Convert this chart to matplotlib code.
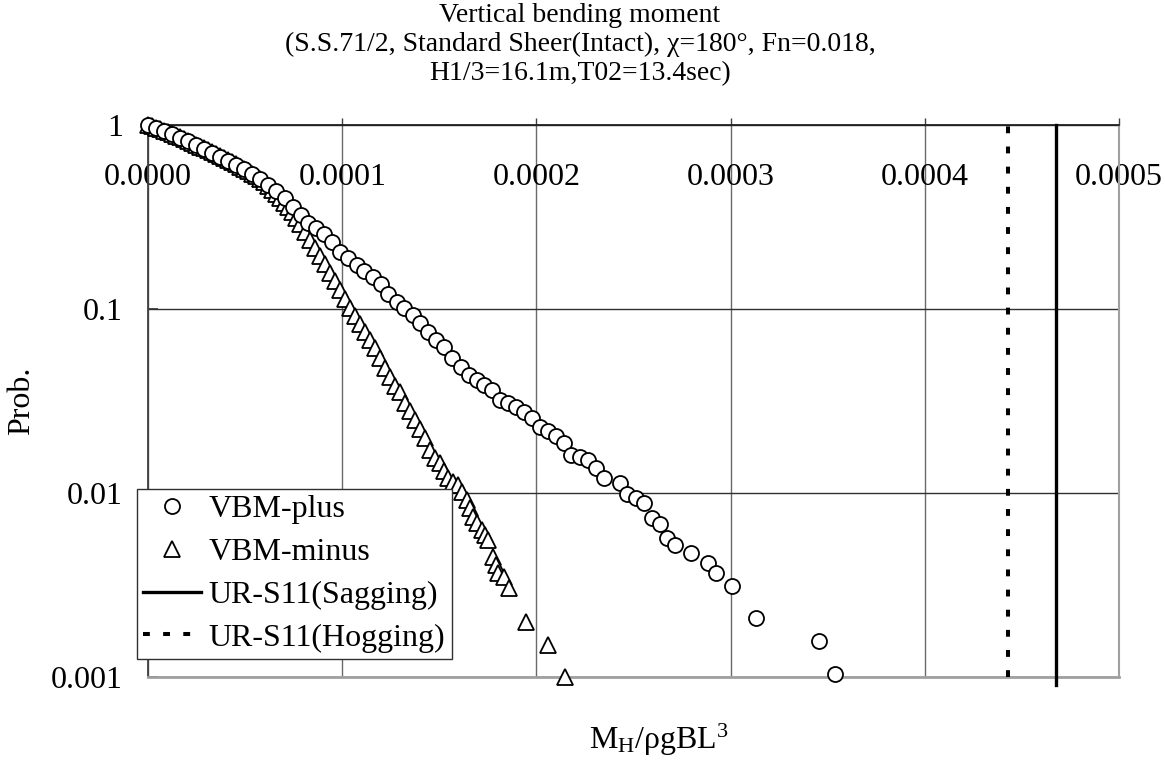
import matplotlib
matplotlib.use('Agg')
import matplotlib.pyplot as plt
from matplotlib.ticker import FixedLocator, FixedFormatter, NullLocator

plt.rcParams['font.family'] = ['Liberation Serif', 'DejaVu Serif']
plt.rcParams['mathtext.fontset'] = 'custom'
plt.rcParams['mathtext.rm'] = 'Liberation Serif'
plt.rcParams['mathtext.it'] = 'Liberation Serif:italic'

# ---------------- data ----------------
plus_x = [0, 4.12e-6, 8.23e-6, 1.235e-5, 1.647e-5, 2.058e-5, 2.470e-5, 2.882e-5, 3.294e-5,
          3.705e-5, 4.117e-5, 4.529e-5, 4.941e-5, 5.352e-5, 5.764e-5, 6.176e-5, 6.588e-5,
          7.051e-5, 7.463e-5, 7.859e-5, 8.250e-5, 8.646e-5, 9.058e-5, 9.455e-5, 9.882e-5,
          1.0309e-4, 1.0741e-4, 1.1133e-4, 1.1565e-4, 1.1977e-4, 1.2368e-4, 1.2800e-4,
          1.3191e-4, 1.3624e-4, 1.3999e-4, 1.4426e-4, 1.4823e-4, 1.5234e-4, 1.5661e-4,
          1.6094e-4, 1.6521e-4, 1.6917e-4, 1.7308e-4, 1.7720e-4, 1.8116e-4, 1.8544e-4,
          1.8940e-4, 1.9352e-4, 1.9748e-4, 2.0175e-4, 2.0587e-4, 2.0999e-4, 2.1410e-4,
          2.1807e-4, 2.2234e-4, 2.2661e-4, 2.3057e-4, 2.3469e-4, 2.4292e-4, 2.4689e-4,
          2.5116e-4, 2.5528e-4, 2.5940e-4, 2.6351e-4, 2.6748e-4, 2.7160e-4, 2.7983e-4,
          2.8837e-4, 2.9233e-4, 3.0057e-4, 3.1292e-4, 3.4550e-4, 3.5394e-4]
plus_p = [1.0, 0.963, 0.928, 0.894, 0.850, 0.819, 0.779, 0.741, 0.705,
          0.670, 0.637, 0.606, 0.576, 0.542, 0.509, 0.472, 0.438,
          0.401, 0.360, 0.324, 0.294, 0.275, 0.256, 0.232, 0.205,
          0.189, 0.173, 0.1615, 0.1487, 0.1368, 0.1202, 0.1096,
          0.1009, 0.0928, 0.0836, 0.0752, 0.0678, 0.0624, 0.0540,
          0.0486, 0.0438, 0.0411, 0.0386, 0.0363, 0.0320, 0.0307,
          0.0294, 0.0277, 0.0255, 0.0229, 0.0217, 0.0204, 0.0188,
          0.0161, 0.0156, 0.0151, 0.0136, 0.0120, 0.0114, 0.00988,
          0.00936, 0.00886, 0.00729, 0.00679, 0.00571, 0.00522, 0.00470,
          0.00418, 0.00366, 0.00312, 0.00208, 0.00156, 0.00104]

minus_x = [0, 2.06e-6, 4.12e-6, 6.18e-6, 8.23e-6, 1.029e-5, 1.235e-5, 1.441e-5, 1.647e-5,
           1.853e-5, 2.059e-5, 2.265e-5, 2.470e-5, 2.676e-5, 2.882e-5, 3.088e-5, 3.294e-5,
           3.500e-5, 3.706e-5, 3.911e-5, 4.117e-5, 4.323e-5, 4.529e-5, 4.735e-5, 4.941e-5,
           5.147e-5, 5.353e-5, 5.558e-5, 5.764e-5, 5.970e-5, 6.176e-5, 6.382e-5, 6.588e-5,
           6.794e-5, 6.999e-5, 7.205e-5, 7.411e-5, 7.617e-5, 7.823e-5, 8.080e-5, 8.338e-5,
           8.595e-5, 8.852e-5, 9.110e-5, 9.367e-5, 9.624e-5, 9.882e-5, 1.0139e-4, 1.0396e-4,
           1.0654e-4, 1.0911e-4, 1.1168e-4, 1.1426e-4, 1.1683e-4, 1.1941e-4, 1.2198e-4,
           1.2455e-4, 1.2712e-4, 1.2970e-4, 1.3227e-4, 1.3484e-4, 1.3742e-4, 1.3999e-4,
           1.4256e-4, 1.4514e-4, 1.4771e-4, 1.5028e-4, 1.5234e-4, 1.5440e-4, 1.5697e-4,
           1.5955e-4, 1.6161e-4, 1.6403e-4, 1.6573e-4, 1.6727e-4, 1.6933e-4, 1.7175e-4,
           1.7344e-4, 1.7499e-4, 1.7756e-4, 1.7911e-4, 1.8013e-4, 1.8322e-4, 1.8595e-4,
           1.9490e-4, 2.0602e-4, 2.1487e-4]
minus_p = [1.0, 0.984, 0.967, 0.951, 0.931, 0.913, 0.894, 0.875, 0.857,
           0.839, 0.818, 0.798, 0.779, 0.762, 0.747, 0.731, 0.713,
           0.696, 0.679, 0.662, 0.645, 0.629, 0.611, 0.593, 0.576,
           0.560, 0.544, 0.528, 0.507, 0.488, 0.469, 0.446, 0.422,
           0.399, 0.378, 0.357, 0.336, 0.312, 0.288, 0.261, 0.236,
           0.2135, 0.1931, 0.1747, 0.1573, 0.1414, 0.1265, 0.1130, 0.1015,
           0.0913, 0.0825, 0.0746, 0.0675, 0.0611, 0.0542, 0.0479,
           0.0428, 0.0383, 0.0352, 0.0310, 0.0278, 0.0250, 0.0223,
           0.0198, 0.0171, 0.0155, 0.0146, 0.0132, 0.0121, 0.0115,
           0.0111, 0.0101, 0.00916, 0.00829, 0.00743, 0.00687, 0.00629,
           0.00591, 0.00555, 0.00451, 0.00406, 0.00367, 0.00349, 0.00303,
           0.00200, 0.00150, 0.00100]

sagging_limit = 4.678e-4
hogging_limit = 4.426e-4

x_ticks = [0.0, 0.0001, 0.0002, 0.0003, 0.0004, 0.0005]
x_tick_labels = ['0.0000', '0.0001', '0.0002', '0.0003', '0.0004', '0.0005']
y_ticks = [0.001, 0.01, 0.1, 1]
y_tick_labels = ['0.001', '0.01', '0.1', '1']

series_labels = ['VBM-plus', 'VBM-minus', 'UR-S11(Sagging)', 'UR-S11(Hogging)']
title_text = ('Vertical bending moment\n'
              '(S.S.71/2, Standard Sheer(Intact), \u03c7=180\u00b0, Fn=0.018,\n'
              'H1/3=16.1m,T02=13.4sec)')

# ---------------- figure ----------------
W, H = 1165, 761
fs = 23
fig = plt.figure(figsize=(W / 100, H / 100), dpi=100)
ax = fig.add_axes([148 / W, 1 - 677 / H, (1119 - 148) / W, (677 - 125) / H])
ax.set_yscale('log')
ax.set_xlim(0, 0.0005)
ax.set_ylim(0.001, 1)

ax.plot(minus_x, minus_p, linestyle='none', marker='^', ms=11.5, mfc='white',
        mec='black', mew=1.3, clip_on=False, zorder=4, label=series_labels[1])
ax.plot(plus_x, plus_p, linestyle='none', marker='o', ms=10.8, mfc='white',
        mec='black', mew=1.3, clip_on=False, zorder=5, label=series_labels[0])
ax.axvline(sagging_limit, ymin=-0.015, ymax=1, color='black', lw=2.4,
           clip_on=False, zorder=3, label=series_labels[2])
ax.axvline(hogging_limit, color='black', lw=2.9, linestyle=(0, (1.7, 3.3)),
           dash_capstyle='butt', zorder=3, label=series_labels[3])

ax.xaxis.set_major_locator(FixedLocator(x_ticks))
ax.xaxis.set_major_formatter(FixedFormatter(x_tick_labels))
ax.xaxis.set_minor_locator(NullLocator())
ax.yaxis.set_major_locator(FixedLocator(y_ticks))
ax.yaxis.set_major_formatter(FixedFormatter(y_tick_labels))
ax.yaxis.set_minor_locator(NullLocator())

ax.tick_params(axis='x', which='major', top=True, bottom=False, labeltop=True,
               labelbottom=False, direction='out', length=5, width=1,
               pad=-53, labelsize=fs, color='#404040')
ax.tick_params(axis='y', which='major', left=True, right=False, direction='in',
               length=7, width=1.2, pad=18, labelsize=fs, color='#303030')

ax.grid(True, axis='y', color='#303030', lw=1.0)
ax.grid(True, axis='x', color='#6a6a6a', lw=1.0)
ax.set_axisbelow(True)

ax.spines['top'].set_color('#202020')
ax.spines['top'].set_linewidth(1.3)
ax.spines['left'].set_color('#404040')
ax.spines['left'].set_linewidth(1.3)
ax.spines['bottom'].set_color('#a0a0a0')
ax.spines['bottom'].set_linewidth(2.0)
ax.spines['right'].set_color('#a0a0a0')
ax.spines['right'].set_linewidth(1.5)

handles, labels = ax.get_legend_handles_labels()
order = [labels.index(l) for l in series_labels]
leg = fig.legend([handles[i] for i in order], [labels[i] for i in order],
                 loc='lower left', bbox_to_anchor=(137 / W, 1 - 659 / H),
                 borderaxespad=0, fontsize=fs, frameon=True, fancybox=False,
                 edgecolor='#303030', framealpha=1, borderpad=0.2,
                 handlelength=1.79, handletextpad=0.25, labelspacing=0.42)
leg.get_frame().set_linewidth(1.0)

fig.text(580 / W, 1 - 3 / H, title_text, ha='center', va='top', fontsize=20,
         linespacing=1.22)
fig.text(22 / W, 1 - 401 / H, 'Prob.', rotation=90, ha='center', va='center',
         fontsize=fs)
fig.text(659 / W, 1 - 740 / H, r'M$_{\mathregular{H}}$/ρgBL$^{\mathregular{3}}$',
         ha='center', va='center', fontsize=23)

fig.savefig('out.png', dpi=100)
